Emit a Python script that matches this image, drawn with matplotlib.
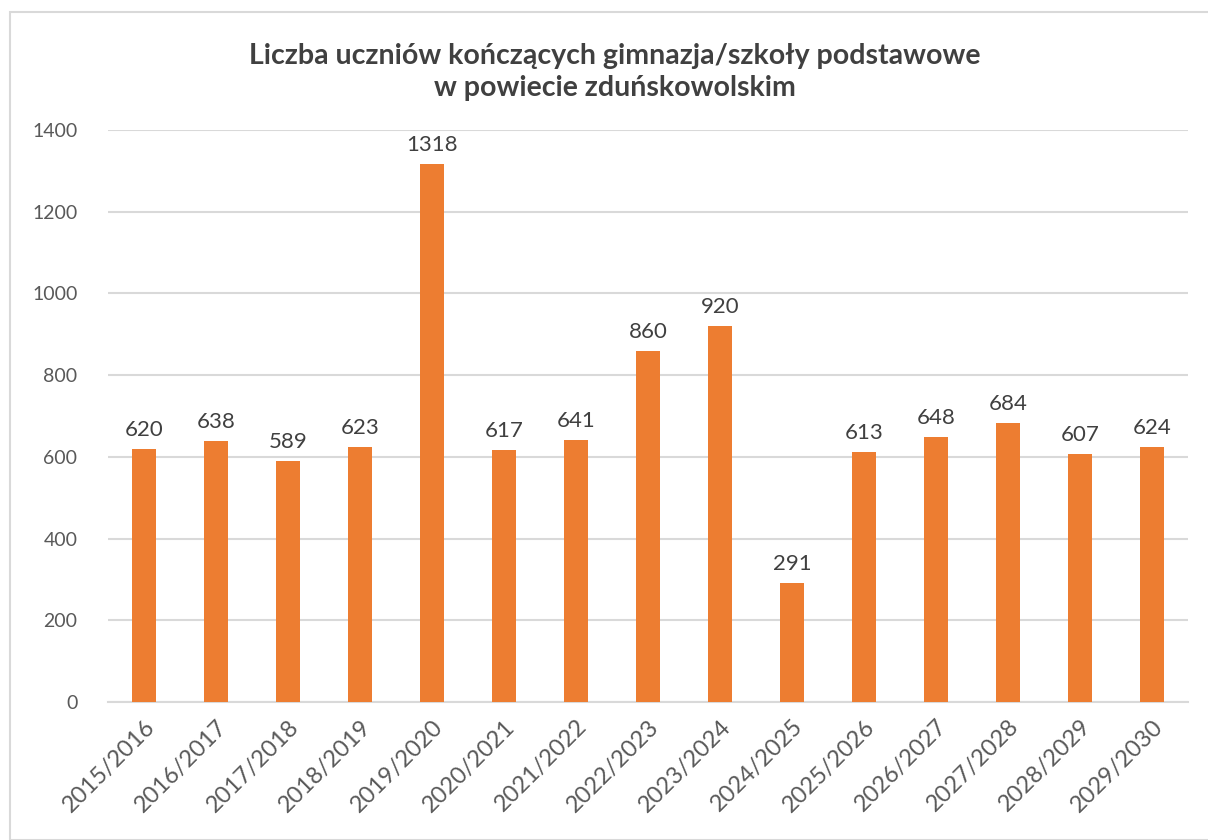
import matplotlib.pyplot as plt
from matplotlib.patches import Rectangle

# dane
lata = ["2015/2016", "2016/2017", "2017/2018", "2018/2019", "2019/2020",
        "2020/2021", "2021/2022", "2022/2023", "2023/2024", "2024/2025",
        "2025/2026", "2026/2027", "2027/2028", "2028/2029", "2029/2030"]
uczniowie = [620, 638, 589, 623, 1318, 617, 641, 860, 920, 291,
             613, 648, 684, 607, 624]
y_ticks = [0, 200, 400, 600, 800, 1000, 1200, 1400]

plt.rcParams['font.family'] = ['Lato', 'DejaVu Sans']

fig = plt.figure(figsize=(12.08, 8.4), dpi=100)
ax = fig.add_axes([108/1208, 1 - 702/840, 1080/1208, 572/840])

# ramka wykresu
fig.patches.append(Rectangle((10/1208, 0), 1.0, 1 - 12/840, transform=fig.transFigure,
                             fill=False, edgecolor="#D9D9D9", linewidth=1.5))

x = range(len(lata))
ax.bar(x, uczniowie, width=0.33, color="#ED7D31", zorder=3)

for i, v in enumerate(uczniowie):
    ax.text(i, v + 22, str(v), ha="center", va="bottom", fontsize=16, color="#404040")

ax.set_xlim(-0.5, len(lata) - 0.5)
ax.set_ylim(0, 1400)
ax.set_yticks(y_ticks)
ax.set_xticks(list(x))
ax.set_xticklabels(lata, rotation=45, ha="right", rotation_mode="anchor")
ax.tick_params(axis="both", length=0, labelcolor="#595959")
ax.tick_params(axis="y", pad=22, labelsize=14)
ax.tick_params(axis="x", pad=10, labelsize=17)

ax.grid(axis="y", color="#D9D9D9", linewidth=1.5, zorder=0)
for s in ["top", "right", "left"]:
    ax.spines[s].set_visible(False)
ax.spines["bottom"].set_color("#D9D9D9")
ax.spines["bottom"].set_linewidth(1.5)

fig.text(615/1208, 1 - 72/840, "Liczba uczniów kończących gimnazja/szkoły podstawowe\nw powiecie zduńskowolskim",
         ha="center", va="center", fontsize=20.5, fontweight="bold", color="#404040", linespacing=1.25)

fig.savefig("out.png", dpi=100)
